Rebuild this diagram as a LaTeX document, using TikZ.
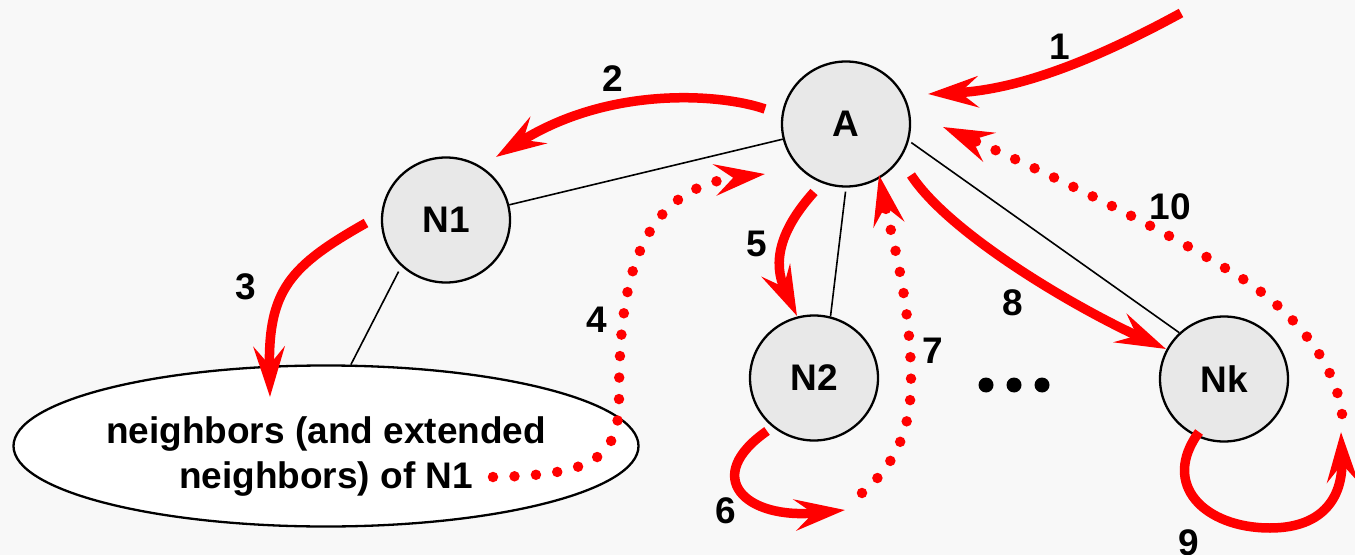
\documentclass[tikz,border=0pt]{standalone}
\usepackage{fontspec}
\setmainfont{Liberation Sans}
\usetikzlibrary{shapes.geometric, arrows.meta, calc}
\definecolor{paper}{HTML}{F8F8F8}
\definecolor{peerfill}{HTML}{E8E8E8}

\begin{document}
\begin{tikzpicture}[
    x = 1bp, y = -1bp,
    every node/.style = {font = \fontsize{37bp}{45bp}\selectfont\bfseries},
    peer/.style = {ellipse, draw, line width = 2.3bp, fill = peerfill,
        minimum width = 128bp, minimum height = 125bp, inner sep = 0pt},
    area/.style = {ellipse, draw, line width = 2.3bp, fill = white,
        minimum width = 625bp, minimum height = 161bp, inner sep = 0pt,
        align = center},
    link/.style = {line width = 1.6bp},
    hop/.style = {red, line width = 9.5bp,
        -{Stealth[length = 50bp, width = 31bp, inset = 18bp]}},
    probe/.style = {hop, line width = 10.5bp, line cap = round,
        dash pattern = on 0pt off 21.5bp}]

\useasboundingbox (0,0) rectangle (1355,555);
\fill[paper] (0,0) rectangle (1355,555);

% peers
\node[peer] (A) at (846,124) {A};
\node[peer] (N1) at (446,220) {N1};
\node[peer] (N2) at (814,378) {N2};
\node[peer] (Nk) at (1224,379) {Nk};
\node[area] (nb) at (326,446)
    {\rule{0pt}{47bp}neighbors (and extended\\neighbors) of N1};

% overlay links
\draw[link] (N1) -- (A);
\draw[link, shorten <= 4bp] (A.south) -- (N2.75);
\draw[link, shorten <= 3bp] (A.-15) -- (Nk.134);
\draw[link, shorten <= 6bp] (N1.-134) -- (nb.73);

\foreach \x in {986, 1014, 1042}
    \fill (\x,385) circle (7.5bp);

% messages
\draw[hop] ($(A)+(335,-111)$) .. controls (1095,60) and (1018,90) .. ($(A)+(82,-30)$);
\draw[hop] ($(A)+(-81,-15)$) .. controls (722,94) and (610,85) .. ($(N1)+(50,-63)$);
\draw[hop] ($(N1)+(-80,3)$) .. controls (290,266) and (268,290) .. ($(nb)+(-56,-49)$);
\draw[probe] ($(nb)+(167,31)$) .. controls (590,475) and (619,460) .. (619,400)
    .. controls (619,300) and (630,190) .. ($(A)+(-81,50)$);
\draw[hop] ($(A)+(-32,68)$) .. controls (780,230) and (772,262) .. ($(N2)+(-17,-62)$);
\draw[hop] ($(N2)+(-47,53)$) .. controls (701,477) and (745,520) .. ($(N2)+(31,132)$);
\draw[probe] ($(N2)+(48,115)$) .. controls (895,465) and (911,430) .. (911,381)
    .. controls (911,300) and (890,230) .. ($(A)+(33,51)$);
\draw[hop] ($(A)+(65,51)$) .. controls (948,232) and (1070,305) .. ($(Nk)+(-58,-30)$);
\draw[hop] ($(Nk)+(-25,53)$) .. controls (1160,485) and (1205,528) .. (1270,528)
    .. controls (1325,528) and (1343,495) .. ($(Nk)+(117,53)$);
\draw[probe] ($(Nk)+(118,35)$) .. controls (1335,360) and (1290,305) .. (1225,268)
    .. controls (1150,222) and (1030,165) .. ($(A)+(97,3)$);

% step numbers
\path (1060,47) node (l1) {1}
      (613,79) node (l2) {2}
      (246,287) node (l3) {3}
      (597,320) node (l4) {4}
      (757,244) node (l5) {5}
      (726,511) node (l6) {6}
      (933,351) node (l7) {7}
      (1013,303) node (l8) {8}
      (1189,543) node (l9) {9}
      (1170,207) node (l10) {10};
\end{tikzpicture}
\end{document}
